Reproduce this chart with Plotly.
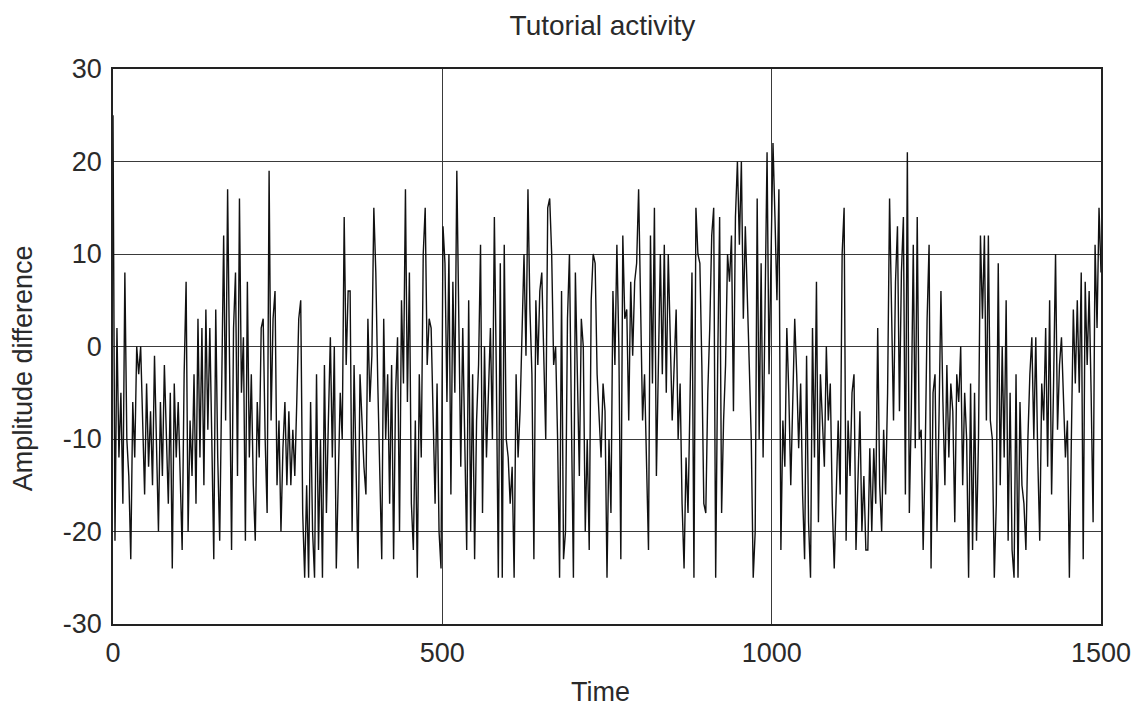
import plotly.graph_objects as go

# Sample spacing (time units) of the hand-read series
time_step = 3

# Amplitude difference values, one every 3 time units (t = 0 .. 1500)
amplitude = [
    25, -21, 2, -12, -5, -17, 8, -10, -14, -23,
    -6, -12, 0, -3, 0, -8, -16, -4, -13, -7,
    -15, -1, -11, -20, -6, -14, -2, -10, -17, -5,
    -24, -4, -12, -6, -15, -22, -3, 7, -20, -8,
    -14, -3, -17, 3, -12, 2, -15, 4, -9, 2,
    -10, -23, 4, -12, -21, -4, 12, -8, 17, -2,
    -22, 2, 8, -14, 16, -5, 1, -21, 7, -12,
    -3, -15, -21, -6, -12, 2, 3, -10, -18, 19,
    -8, 3, 6, -15, -8, -20, -11, -6, -15, -7,
    -15, -9, -14, -6, 3, 5, -18, -25, -15, -25,
    -6, -20, -25, -3, -22, -10, -25, -2, -18, -8,
    1, -12, 0, -24, -14, -5, -10, 14, -2, 6,
    6, -20, -2, -12, -24, -3, -8, -13, -16, 3,
    -6, -1, 15, 8, -4, -12, -23, 3, -10, -3,
    -17, -2, -23, -5, 1, -20, 5, -4, 17, -6,
    8, -17, -22, -8, -25, -3, -12, 10, 15, -2,
    3, 2, -9, -17, -4, -20, -24, 13, 9, -6,
    10, -16, 7, -5, 19, 2, -13, 2, -9, -22,
    5, -20, -3, -23, -8, -2, 11, -18, 0, -12,
    -5, 2, -10, 14, -3, -25, 9, -25, 11, -10,
    -12, -17, -13, -25, -3, -12, -7, 1, 10, -1,
    17, 4, -3, -23, 5, -2, 6, 8, 0, -10,
    15, 16, 10, -2, 0, -10, -25, 6, -23, -20,
    3, 10, -8, -25, 8, -3, -14, 3, 0, -20,
    -10, -22, 5, 10, 9, -3, -7, -12, -4, -7,
    -25, -10, -18, 6, -2, 11, 0, -23, 12, 3,
    4, -8, 7, -1, 7, 9, 17, 3, -8, -3,
    -12, -22, 12, -4, 15, -14, -2, 10, -3, 11,
    -5, 10, 1, -8, -2, 4, -10, -4, -17, -24,
    -12, -18, -6, 8, -25, 15, 10, 9, -2, -17,
    -18, -5, 2, 12, 15, -25, -2, 14, -18, -8,
    -2, 10, 7, 12, -7, 14, 20, 11, 20, 3,
    13, 4, -2, -10, -25, -20, 16, -10, 9, -12,
    7, 21, -3, 9, 22, 14, 5, 17, -22, -8,
    -13, 2, -5, -15, -7, 3, -3, -11, -4, -16,
    -23, -1, -19, -25, 2, -12, 7, -19, -3, -8,
    -13, 0, -8, -4, -17, -24, -16, -8, -16, 10,
    15, -21, -8, -14, -5, -3, -22, -15, -7, -20,
    -14, -22, -22, -11, -20, -11, -17, 2, -15, -20,
    -9, -16, -5, 16, 3, -8, 7, 13, -7, 8,
    14, -16, 21, -18, -7, 11, -11, 14, -10, -9,
    -22, -12, 3, 11, -24, -5, -3, -20, -8, 6,
    -6, -15, -2, -12, -4, -7, -19, -3, -6, 0,
    -15, -5, -10, -25, -4, -22, -5, -21, -10, 12,
    3, 12, -8, 12, -8, -10, -25, -17, 9, -15,
    0, -12, 5, -21, -5, -22, -25, -3, -25, -6,
    -15, -17, -22, -10, -3, 1, -10, 1, -12, -21,
    -4, -8, 2, -13, 5, -16, -4, 10, -9, -2,
    1, -6, -12, -8, -25, -10, 4, -4, 5, -5,
    8, -23, 7, -2, 6, -5, -19, 11, 2, 15,
    8,
]
time = [i * time_step for i in range(len(amplitude))]

# Axis ticks
x_ticks = [0, 500, 1000, 1500]
x_tick_labels = ["0", "500", "1000", "1500"]
y_ticks = [-30, -20, -10, 0, 10, 20, 30]
y_tick_labels = ["-30", "-20", "-10", "0", "10", "20", "30"]

chart_title = "Tutorial activity"
x_title = "Time"
y_title = "Amplitude difference"

FONT = "Liberation Sans, Arial, sans-serif"
TEXT = "#2a2a2a"

fig = go.Figure()
fig.add_trace(go.Scatter(
    x=time, y=amplitude, mode="lines",
    line=dict(color="#111111", width=1.4),
    showlegend=False, hoverinfo="skip",
))

axis_common = dict(
    showgrid=True, gridcolor="#3a3a3a", gridwidth=1,
    zeroline=False, showline=True, linecolor="#222222", linewidth=1.5,
    mirror=True, ticks="",
    tickfont=dict(family=FONT, size=27, color=TEXT),
)

fig.update_layout(
    width=1141, height=706,
    margin=dict(l=105, r=48, t=61, b=90),
    paper_bgcolor="white", plot_bgcolor="white",
    title=dict(text=chart_title, x=0.521, xanchor="center", y=1 - 17 / 706,
               yanchor="middle", font=dict(family=FONT, size=28, color=TEXT)),
    xaxis=dict(range=[0, 1500], tickvals=x_ticks, ticktext=x_tick_labels,
               ticklabelstandoff=4, **axis_common),
    yaxis=dict(range=[-30, 30], tickvals=y_ticks, ticktext=y_tick_labels,
               ticklabelstandoff=4, **axis_common),
    annotations=[
        dict(text=x_title, xref="paper", yref="paper", x=0.493, y=-0.1225,
             xanchor="center", yanchor="middle", showarrow=False,
             font=dict(family=FONT, size=27, color=TEXT)),
        dict(text=y_title, xref="paper", yref="paper", x=-0.0911, y=0.461,
             xanchor="center", yanchor="middle", textangle=-90, showarrow=False,
             font=dict(family=FONT, size=27, color=TEXT)),
    ],
)

fig.write_html("out.html")
